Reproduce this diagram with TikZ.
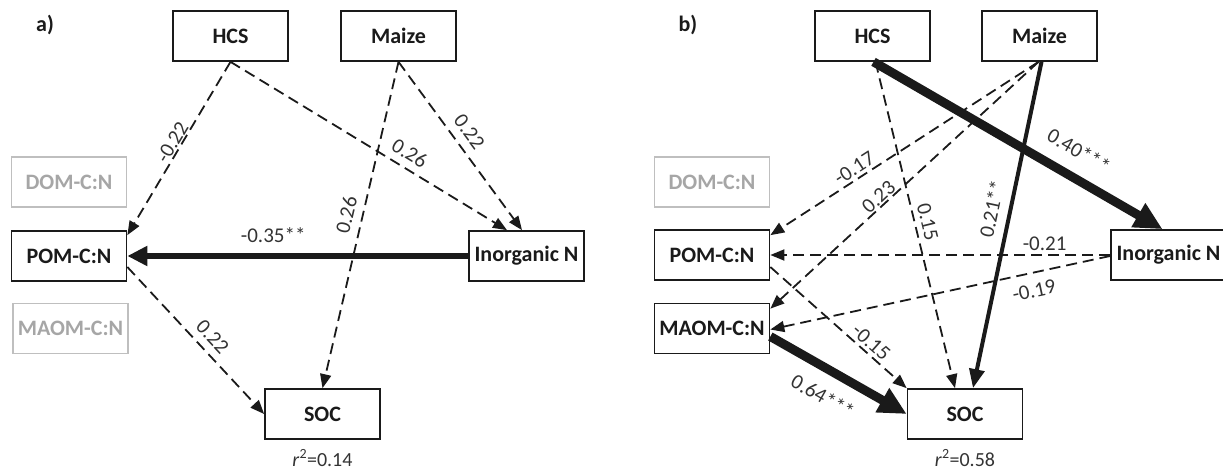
\documentclass[tikz,border=0pt]{standalone}
\usepackage{fontspec}
\setmainfont{Carlito}
\usetikzlibrary{arrows.meta,calc}
\definecolor{ink}{HTML}{1A1A1A}
\definecolor{lblc}{HTML}{333333}
\definecolor{greyline}{HTML}{BFBFBF}
\definecolor{greytext}{HTML}{A6A6A6}
\begin{document}
\begin{tikzpicture}[x=1pt,y=-1pt,
  box/.style={draw=ink, line width=1.7pt, fill=white, minimum width=115pt, minimum height=50pt, inner sep=0pt, font=\fontsize{22}{26}\selectfont\bfseries, text=ink},
  gbox/.style={box, draw=greyline, text=greytext},
  dsh/.style={draw=ink, line width=1.8pt, dash pattern=on 11pt off 6pt, -{Triangle[length=14pt,width=11pt]}},
  thkA/.style={draw=ink, line width=6.5pt, -{Triangle[length=20pt,width=19pt]}},
  thkB/.style={draw=ink, line width=9pt, -{Triangle[length=28pt,width=26pt]}},
  thkC/.style={draw=ink, line width=4pt, -{Triangle[length=19pt,width=15pt]}},
  lbl/.style={font=\fontsize{21}{25}\selectfont, text=lblc, inner sep=1pt, sloped},
  rlbl/.style={font=\fontsize{20}{24}\selectfont, text=lblc, inner sep=0pt},
  panel/.style={font=\fontsize{22}{26}\selectfont\bfseries, text=ink, inner sep=0pt}
]
\useasboundingbox (0,0) rectangle (1223,470);
% ---------- panel a ----------
\node[panel] (pa) at (45,25) {a)};
\node[box] (hcsA) at (230.5,36) {HCS};
\node[box] (maizeA) at (398.5,36) {Maize};
\node[gbox] (domA) at (69,182) {DOM-C:N};
\node[box] (pomA) at (69,256) {POM-C:N};
\node[gbox] (maomA) at (70.5,328.5) {MAOM-C:N};
\node[box] (inA) at (526.5,256) {Inorganic N};
\node[box] (socA) at (322.5,414) {SOC};
\node[rlbl] (r2A) at (322.5,458) {\textit{r}\textsuperscript{2}=0.14};

\draw[dsh] (hcsA.south) -- node[lbl, pos=0.49, above=0pt] {-0.22} ($(pomA.north east)+(0,5)$);
\draw[dsh] (hcsA.south) -- node[lbl, pos=0.62, above=6pt] {0.26} ($(inA.north)+(-19.5,0)$);
\draw[dsh] (maizeA.south) -- node[lbl, pos=0.47, above=7pt] {0.22} ($(inA.north)+(-4.5,0)$);
\draw[dsh] (maizeA.south) -- node[lbl, pos=0.48, above=7pt] {0.26} (socA.north);
\draw[thkA] (inA.west) -- node[lbl, pos=0.572, above=9pt] {-0.35**} (pomA.east);
\draw[dsh] ($(pomA.east)+(0,11)$) -- node[lbl, pos=0.544, above=6pt] {0.22} (socA.west);

% ---------- panel b ----------
\node[panel] (pb) at (688,25) {b)};
\node[box] (hcsB) at (872.5,36) {HCS};
\node[box] (maizeB) at (1039.5,36) {Maize};
\node[gbox] (domB) at (712,182) {DOM-C:N};
\node[box] (pomB) at (712,255) {POM-C:N};
\node[box] (maomB) at (712,328.5) {MAOM-C:N};
\node[box] (inB) at (1168.5,255) {Inorganic N};
\node[box] (socB) at (965,414) {SOC};
\node[rlbl] (r2B) at (965,458) {\textit{r}\textsuperscript{2}=0.58};

\draw[dsh] ($(hcsB.south)+(3,0)$) -- node[lbl, pos=0.50, above=4pt] {0.15} ($(socB.north)+(-10,0)$);
\draw[dsh] ($(maizeB.south)+(-1,0)$) -- node[lbl, pos=0.665, above=2pt] {-0.17} ($(pomB.north east)+(0,6)$);
\draw[dsh] ($(maizeB.south)+(-1,0)$) -- node[lbl, pos=0.574, above=0pt] {0.23} ($(maomB.north east)+(0,6)$);
\draw[dsh] (inB.west) -- node[lbl, pos=0.193, above=2.5pt] {-0.21} (pomB.east);
\draw[dsh] ($(inB.west)+(0,1)$) -- node[lbl, pos=0.235, below=9pt] {-0.19} ($(maomB.east)+(0,1)$);
\draw[dsh] ($(pomB.east)+(0,12)$) -- node[lbl, pos=0.688, above=2pt] {-0.15} (socB.north west);
\draw[thkB] ($(hcsB.south)+(1,0)$) -- node[lbl, pos=0.666, above=13pt] {0.40***} ($(inB.north)+(-6,0)$);
\draw[thkC] ($(maizeB.south)+(2,0)$) -- node[lbl, pos=0.462, above=8pt] {0.21**} ($(socB.north)+(8,0)$);
\draw[thkB] ($(maomB.east)+(0,8)$) -- node[lbl, pos=0.48, below=13pt] {0.64***} (socB.west);
\end{tikzpicture}
\end{document}
